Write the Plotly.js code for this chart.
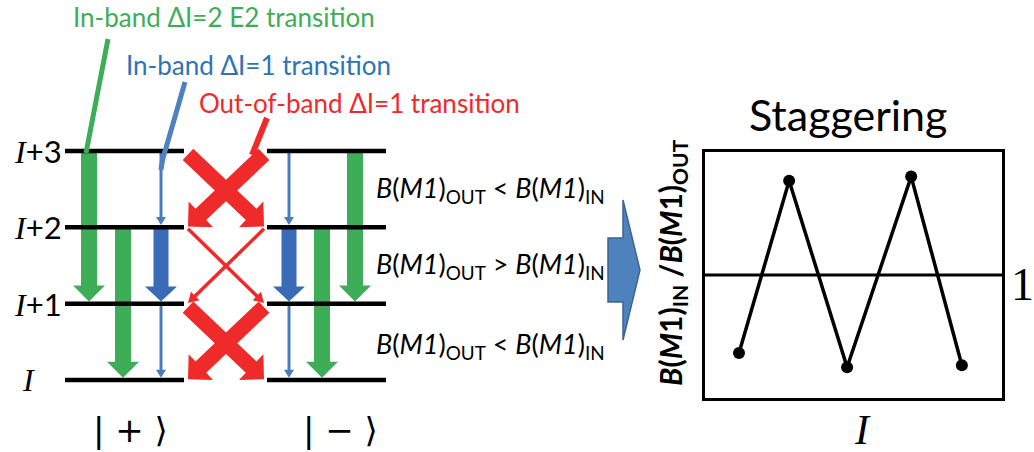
<!DOCTYPE html>
<html><head><meta charset="utf-8">
<script src="https://cdn.plot.ly/plotly-3.0.1.min.js"></script>
<style>body{margin:0;background:#fff}</style>
</head><body>
<div id="chart" style="width:1034px;height:452px"></div>
<script>
// ---------- data ----------
const levelValues = [0, 1, 2, 3];
const levelLabels = ['I', 'I+1', 'I+2', 'I+3'];
const bandLabels = ['| + \u27E9', '| \u2212 \u27E9'];
// in-band M1 (ΔI=1) transitions, same in both signature bands
const m1InFrom = [3, 2, 1];
const m1InTo = [2, 1, 0];
const m1InStrength = ['weak', 'strong', 'weak'];
// out-of-band M1 (ΔI=1) transitions between the two bands
const m1OutFrom = [3, 2, 1];
const m1OutTo = [2, 1, 0];
const m1OutStrength = ['strong', 'weak', 'strong'];
// in-band E2 (ΔI=2) transitions
const e2From = [3, 2];
const e2To = [1, 0];
// relation labels, top to bottom
const relationOps = ['&lt;', '&gt;', '&lt;'];
const relationMid = [2.5, 1.5, 0.45];
// staggering panel
const stagI = [0, 0.9, 1.94, 3.09, 4];
const stagRatio = [0.62, 1.46, 0.55, 1.48, 0.56];
const refRatio = 1;

// ---------- layout geometry ----------
const W = 1034, H = 452;
const LEFT_W = 620;
const Y_RANGE = [-0.943, 4.978];
const PXY = H / (Y_RANGE[1] - Y_RANGE[0]);
const plusBand = [65, 184], minusBand = [267, 386];
const pos = {
  plusE2: {3: 89, 2: 123}, plusM1: 161,
  minusE2: {3: 355, 2: 322}, minusM1: 289,
  outPlus: 188, outMinus: 264
};
const GREEN = '#3DAE57', BLUE_D = '#3A6BB6', BLUE_L = '#4A7CC2', RED = '#EE2A2A';
const styles = {
  e2: {sw: 16, hw: 32, hl: 16, c: GREEN},
  inStrong: {sw: 15, hw: 32, hl: 15, c: BLUE_D},
  inWeak: {sw: 3, hw: 10, hl: 8, c: BLUE_L},
  outStrong: {sw: 15.5, hw: 35.4, hl: 17.7, c: RED},
  outWeak: {sw: 3.5, hw: 12, hl: 10, c: RED}
};

function arrowPoly(x1, y1, x2, y2, s) {
  const X1 = x1, Y1 = y1 * PXY, X2 = x2, Y2 = y2 * PXY;
  const L = Math.hypot(X2 - X1, Y2 - Y1);
  const dx = (X2 - X1) / L, dy = (Y2 - Y1) / L;
  const nx = -dy, ny = dx;
  const bx = X2 - dx * s.hl, by = Y2 - dy * s.hl;
  const pts = [
    [X1 + nx * s.sw / 2, Y1 + ny * s.sw / 2],
    [bx + nx * s.sw / 2, by + ny * s.sw / 2],
    [bx + nx * s.hw / 2, by + ny * s.hw / 2],
    [X2, Y2],
    [bx - nx * s.hw / 2, by - ny * s.hw / 2],
    [bx - nx * s.sw / 2, by - ny * s.sw / 2],
    [X1 - nx * s.sw / 2, Y1 - ny * s.sw / 2]
  ];
  pts.push(pts[0]);
  return {x: pts.map(p => p[0]), y: pts.map(p => p[1] / PXY)};
}
function arrowTrace(x1, y1, x2, y2, s) {
  const p = arrowPoly(x1, y1, x2, y2, s);
  return {type: 'scatter', mode: 'lines', x: p.x, y: p.y, fill: 'toself',
    fillcolor: s.c, line: {width: 0, color: s.c}, hoverinfo: 'skip',
    showlegend: false, xaxis: 'x', yaxis: 'y'};
}

const traces = [];
e2From.forEach((f, i) => {
  const t = e2To[i];
  traces.push(arrowTrace(pos.plusE2[f], f, pos.plusE2[f], t + 0.03, styles.e2));
  traces.push(arrowTrace(pos.minusE2[f], f, pos.minusE2[f], t + 0.03, styles.e2));
});
m1InFrom.forEach((f, i) => {
  const t = m1InTo[i];
  const s = m1InStrength[i] === 'strong' ? styles.inStrong : styles.inWeak;
  traces.push(arrowTrace(pos.plusM1, f, pos.plusM1, t + 0.03, s));
  traces.push(arrowTrace(pos.minusM1, f, pos.minusM1, t + 0.03, s));
});
m1OutFrom.forEach((f, i) => {
  const t = m1OutTo[i];
  const strong = m1OutStrength[i] === 'strong';
  const s = strong ? styles.outStrong : styles.outWeak;
  const y1 = strong ? f - 0.045 : f - 0.02, y2 = t + 0.01;
  traces.push(arrowTrace(pos.outPlus, y1, pos.outMinus, y2, s));
  traces.push(arrowTrace(pos.outMinus, y1, pos.outPlus, y2, s));
});
levelValues.forEach(v => {
  traces.push({type: 'scatter', mode: 'lines', x: [plusBand[0], plusBand[1], null, minusBand[0], minusBand[1]],
    y: [v, v, null, v, v], line: {color: '#000', width: 4.5}, hoverinfo: 'skip',
    showlegend: false, xaxis: 'x', yaxis: 'y'});
});
traces.push({type: 'scatter', mode: 'lines+markers', x: stagI, y: stagRatio,
  line: {color: '#000', width: 3.5}, marker: {color: '#000', size: 12},
  hoverinfo: 'skip', showlegend: false, xaxis: 'x2', yaxis: 'y2'});

// ---------- annotations ----------
const px = x => x / W, py = y => 1 - y / H;
const SANS = 'Lato, "Open Sans", sans-serif';
const SERIF = '"Liberation Serif", "DejaVu Serif", serif';
const ann = [];
function A(o) { ann.push(Object.assign({showarrow: false, xanchor: 'center', yanchor: 'middle'}, o)); }
levelValues.forEach((v, i) => {
  const lab = levelLabels[i];
  const txt = '<span style="font-family:\'Liberation Serif\';font-size:32px"><i>I</i></span>' + lab.slice(1);
  A({xref: 'x', yref: 'y', x: lab.length > 1 ? 12 : 20, y: v, xanchor: 'left',
    text: txt, font: {family: SANS, size: 31, color: '#000'}});
});
A({xref: 'x', yref: 'paper', x: (plusBand[0] + plusBand[1]) / 2 + 6, y: py(430), text: bandLabels[0],
  font: {family: '"DejaVu Sans", sans-serif', size: 34, color: '#000'}});
A({xref: 'x', yref: 'paper', x: (minusBand[0] + minusBand[1]) / 2 + 14, y: py(430), text: bandLabels[1],
  font: {family: '"DejaVu Sans", sans-serif', size: 34, color: '#000'}});
A({xref: 'paper', yref: 'paper', x: px(224), y: py(17), text: 'In-band \u0394I=2 E2 transition',
  font: {family: SANS, size: 26, color: '#3DAE57'}});
A({xref: 'paper', yref: 'paper', x: px(258), y: py(65), text: 'In-band \u0394I=1 transition',
  font: {family: SANS, size: 26, color: '#2E74B5'}});
A({xref: 'paper', yref: 'paper', x: px(359), y: py(103), text: 'Out-of-band \u0394I=1 transition',
  font: {family: SANS, size: 26, color: '#EE2A2A'}});
relationOps.forEach((op, i) => {
  A({xref: 'x', yref: 'y', x: 374, y: relationMid[i], xanchor: 'left',
    text: '<i>B</i>(<i>M1</i>)<sub>OUT</sub> ' + op + ' <i>B</i>(<i>M1</i>)<sub>IN</sub>',
    font: {family: SANS, size: 27, color: '#000'}});
});
A({xref: 'paper', yref: 'paper', x: px(848), y: py(114), text: 'Staggering',
  font: {family: SANS, size: 43, color: '#000'}});
A({xref: 'paper', yref: 'paper', x: px(672), y: py(263), textangle: -90,
  text: '<b><i>B</i>(<i>M</i>1)<sub>IN</sub> /<i>B</i>(<i>M</i>1)<sub>OUT</sub></b>',
  font: {family: SANS, size: 30, color: '#000'}});
A({xref: 'paper', yref: 'y2', x: px(1022), y: refRatio, yshift: -9, text: '1',
  font: {family: SERIF, size: 46, color: '#000'}});
A({xref: 'paper', yref: 'paper', x: px(862), y: py(430), text: '<i>I</i>',
  font: {family: SERIF, size: 42, color: '#000'}});

// ---------- shapes ----------
const shapes = [
  {type: 'line', xref: 'x2 domain', yref: 'y2', x0: 0, x1: 1, y0: refRatio, y1: refRatio, line: {color: '#000', width: 3}},
  {type: 'path', xref: 'paper', yref: 'paper', line: {color: '#3DAE57', width: 5},
    path: `M${px(108)},${py(39)} L${px(86)},${py(153)}`},
  {type: 'path', xref: 'paper', yref: 'paper', line: {color: '#4F81BD', width: 5},
    path: `M${px(185)},${py(82)} L${px(166)},${py(148)} Q${px(162)},${py(160)} ${px(161)},${py(170)}`},
  {type: 'path', xref: 'paper', yref: 'paper', line: {color: RED, width: 6},
    path: `M${px(267)},${py(118)} L${px(252)},${py(155)}`},
  {type: 'path', xref: 'paper', yref: 'paper', fillcolor: '#4F81BD', line: {color: '#3A6595', width: 1.5},
    path: `M${px(608)},${py(238)} L${px(623)},${py(238)} L${px(623)},${py(200)} L${px(640)},${py(270)} L${px(623)},${py(340)} L${px(623)},${py(302)} L${px(608)},${py(302)} Z`}
];

const axNone = {showgrid: false, zeroline: false, showticklabels: false, ticks: '', fixedrange: true};
const layout = {
  width: W, height: H, margin: {l: 0, r: 0, t: 0, b: 0},
  paper_bgcolor: '#fff', plot_bgcolor: 'rgba(0,0,0,0)', hovermode: false, showlegend: false,
  xaxis: Object.assign({}, axNone, {domain: [0, LEFT_W / W], range: [0, LEFT_W], anchor: 'y'}),
  yaxis: Object.assign({}, axNone, {domain: [0, 1], range: Y_RANGE, anchor: 'x'}),
  xaxis2: Object.assign({}, axNone, {domain: [705 / W, 1002 / W], range: [-0.61, 4.72], anchor: 'y2',
    showline: true, mirror: true, linewidth: 3, linecolor: '#000'}),
  yaxis2: Object.assign({}, axNone, {domain: [1 - 398 / H, 1 - 152 / H], range: [0.4, 1.6], anchor: 'x2',
    showline: true, mirror: true, linewidth: 3, linecolor: '#000'}),
  annotations: ann, shapes: shapes
};
Plotly.newPlot('chart', traces, layout, {displayModeBar: false, staticPlot: true});
</script>
</body></html>
